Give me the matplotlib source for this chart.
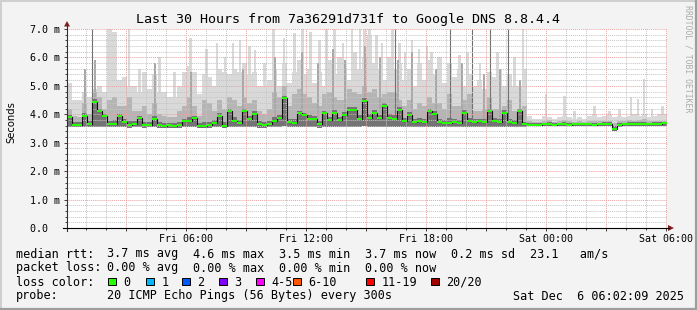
"""
SmokePing style latency chart: last 30 hours to Google DNS 8.8.4.4
"""

import datetime

import matplotlib
matplotlib.use('Agg')
import matplotlib.pyplot as plt
import matplotlib.dates as mdates
import matplotlib.ticker as mtick
from matplotlib.patches import Rectangle, Polygon
import numpy as np

# 15 minute bins, Fri 00:02 -> Sat 06:02
start = datetime.datetime(2025, 12, 5, 0, 2)
step_min = 15

# median rtt (ms)
median = [3.90, 3.62, 3.63, 3.94, 3.66, 4.42, 4.10, 3.95, 3.65, 3.66,
          3.95, 3.73, 3.64, 3.66, 3.88, 3.62, 3.63, 3.83, 3.62, 3.60,
          3.61, 3.59, 3.62, 3.76, 3.76, 3.86, 3.58, 3.58, 3.62, 3.70,
          3.95, 3.60, 4.10, 3.76, 3.70, 4.12, 3.83, 4.00, 3.65, 3.64,
          3.66, 3.75, 3.86, 4.56, 3.72, 3.70, 4.03, 3.96, 3.85, 3.82,
          3.65, 4.03, 3.80, 4.05, 3.80, 3.98, 4.15, 4.15, 3.83, 4.47,
          3.88, 4.06, 3.88, 4.30, 3.88, 3.85, 4.16, 3.76, 3.98, 3.73,
          3.77, 3.72, 4.10, 4.00, 3.72, 3.70, 3.68, 3.72, 3.70, 4.03,
          3.75, 3.74, 3.75, 3.72, 4.10, 3.76, 3.74, 4.03, 3.72, 3.70,
          4.10, 3.66, 3.64, 3.63, 3.64, 3.65, 3.66, 3.64, 3.65, 3.66,
          3.64, 3.65, 3.66, 3.65, 3.66, 3.64, 3.66, 3.67, 3.66, 3.47,
          3.62, 3.65, 3.66, 3.67, 3.66, 3.67, 3.66, 3.67, 3.66, 3.68]

# smoke: slowest ping per bin
smoke_top = [5.1, 4.5, 4.5, 4.8, 4.6, 4.9, 5.0, 4.8, 7.0, 6.9,
             5.2, 5.3, 5.0, 5.0, 4.8, 5.5, 4.9, 5.4, 4.8, 4.8,
             4.6, 4.6, 5.0, 5.5, 5.7, 5.5, 4.7, 5.4, 5.3, 5.0,
             5.6, 5.5, 5.4, 5.6, 5.5, 5.8, 5.4, 5.5, 5.0, 5.0,
             5.2, 5.6, 5.0, 5.8, 5.1, 5.5, 5.9, 5.4, 5.6, 5.1,
             5.5, 5.0, 5.9, 5.4, 6.0, 5.6, 5.2, 6.2, 5.6, 6.0,
             6.8, 5.8, 5.6, 5.2, 6.0, 5.6, 5.8, 5.2, 5.6, 5.0,
             5.8, 5.2, 5.9, 5.4, 6.0, 5.1, 5.8, 5.3, 5.6, 5.0,
             5.4, 5.0, 5.2, 4.9, 5.5, 5.3, 5.6, 5.0, 5.4, 5.0,
             5.0, 5.6, 3.95, 3.85, 3.85, 3.95, 3.9, 3.85, 3.9, 3.95,
             3.9, 3.85, 3.9, 3.85, 3.95, 4.0, 3.9, 3.95, 4.0, 3.9,
             3.95, 3.9, 3.95, 4.0, 3.95, 4.0, 3.9, 3.95, 4.0, 4.0]

# smoke: upper mid band
smoke_upper = [4.2, 3.95, 3.9, 4.4, 4.0, 4.8, 4.6, 4.2, 4.5, 4.6,
               4.3, 4.3, 4.6, 4.1, 4.1, 4.3, 4.0, 4.4, 4.0, 3.95,
               3.9, 3.9, 4.1, 4.3, 4.6, 4.3, 3.95, 4.5, 4.4, 4.1,
               4.5, 4.2, 4.6, 4.5, 4.3, 4.6, 4.4, 4.5, 4.1, 4.0,
               4.2, 4.8, 4.6, 5.0, 4.3, 4.7, 4.9, 4.7, 4.6, 4.4,
               4.3, 4.7, 4.8, 4.6, 4.5, 4.5, 4.9, 4.8, 4.7, 5.0,
               4.8, 4.9, 4.6, 4.7, 4.8, 4.8, 4.5, 4.3, 4.5, 4.2,
               4.4, 4.3, 4.6, 4.4, 4.4, 4.2, 4.7, 4.3, 4.3, 4.5,
               4.7, 4.1, 4.1, 4.2, 4.6, 4.2, 4.2, 4.3, 4.5, 4.1,
               4.0, 4.3, 3.75, 3.73, 3.73, 3.76, 3.8, 3.73, 3.75, 3.8,
               3.75, 3.73, 3.75, 3.73, 3.76, 3.78, 3.75, 3.76, 3.78, 3.68,
               3.76, 3.76, 3.8, 3.76, 3.8, 3.85, 3.76, 3.76, 3.78, 3.78]

# smoke: dense band around the median
smoke_inner = [3.98, 3.72, 3.72, 4.05, 3.76, 4.55, 4.2, 4.02, 3.78, 3.8,
               4.02, 3.85, 3.78, 3.76, 3.95, 3.74, 3.74, 3.95, 3.72, 3.7,
               3.7, 3.68, 3.74, 3.85, 3.9, 3.95, 3.68, 3.74, 3.74, 3.8,
               4.05, 3.74, 4.2, 3.9, 3.8, 4.2, 3.95, 4.1, 3.75, 3.74,
               3.76, 3.9, 3.98, 4.65, 3.84, 3.84, 4.12, 4.06, 3.98, 3.95,
               3.78, 4.12, 3.92, 4.14, 3.92, 4.08, 4.26, 4.24, 3.96, 4.56,
               4.0, 4.16, 3.98, 4.4, 4.0, 3.98, 4.24, 3.88, 4.08, 3.84,
               3.88, 3.84, 4.2, 4.1, 3.84, 3.8, 3.86, 3.84, 3.8, 4.14,
               3.88, 3.82, 3.84, 3.82, 4.2, 3.86, 3.84, 4.14, 3.82, 3.8,
               4.2, 3.74, 3.69, 3.68, 3.69, 3.7, 3.72, 3.69, 3.7, 3.72,
               3.69, 3.7, 3.71, 3.7, 3.71, 3.7, 3.71, 3.72, 3.72, 3.58,
               3.68, 3.7, 3.72, 3.72, 3.72, 3.74, 3.71, 3.72, 3.72, 3.74]

# smoke: fastest ping per bin
smoke_low = [3.55, 3.54, 3.55, 3.56, 3.55, 3.56, 3.55, 3.55, 3.54, 3.55,
             3.55, 3.54, 3.53, 3.55, 3.55, 3.53, 3.54, 3.55, 3.53, 3.52,
             3.53, 3.52, 3.53, 3.55, 3.54, 3.55, 3.52, 3.52, 3.53, 3.54,
             3.55, 3.53, 3.56, 3.55, 3.54, 3.56, 3.55, 3.55, 3.53, 3.53,
             3.54, 3.55, 3.55, 3.58, 3.54, 3.54, 3.56, 3.55, 3.55, 3.55,
             3.53, 3.56, 3.54, 3.56, 3.55, 3.55, 3.57, 3.56, 3.55, 3.58,
             3.55, 3.56, 3.55, 3.57, 3.55, 3.55, 3.56, 3.54, 3.55, 3.54,
             3.55, 3.54, 3.56, 3.55, 3.54, 3.54, 3.54, 3.54, 3.54, 3.56,
             3.55, 3.55, 3.55, 3.54, 3.56, 3.55, 3.55, 3.56, 3.54, 3.54,
             3.56, 3.56, 3.58, 3.58, 3.58, 3.59, 3.58, 3.58, 3.59, 3.58,
             3.58, 3.59, 3.58, 3.59, 3.58, 3.58, 3.59, 3.60, 3.58, 3.42,
             3.56, 3.58, 3.59, 3.59, 3.60, 3.59, 3.59, 3.60, 3.59, 3.60]

# single slow pings (hours after start, ms)
light_spike_h = [3.10, 3.65, 4.65, 5.40, 6.20, 7.00, 7.50, 7.90, 8.30,
                 8.65, 9.15, 9.40, 9.90, 10.35, 10.85, 11.40, 11.80, 12.20,
                 12.65, 13.00, 13.40, 13.80, 14.25, 14.65, 14.90, 15.15,
                 15.50, 15.75, 16.30, 16.65, 16.90, 17.25, 17.60, 18.00,
                 18.25, 18.65, 19.65, 20.05, 20.65, 21.55, 22.40, 22.80,
                 23.95, 24.90, 25.40, 26.40, 27.15, 27.65, 28.20, 28.55,
                 28.85, 29.25, 29.80]
light_spike_ms = [7.0, 5.6, 6.0, 5.5, 6.7, 6.3, 6.5, 6.0, 6.5,
                  6.6, 6.4, 6.25, 5.8, 7.0, 6.7, 6.85, 7.0, 6.9,
                  6.6, 7.0, 7.0, 6.5, 7.0, 7.0, 7.0, 7.0,
                  6.8, 6.5, 7.0, 6.5, 6.2, 6.6, 6.3, 6.4,
                  6.2, 6.0, 6.1, 6.2, 5.8, 6.2, 6.0, 7.0,
                  4.7, 4.65, 4.1, 4.3, 4.1, 4.2, 4.6, 4.55,
                  5.25, 4.2, 4.3]
mid_spike_h = [0.90, 1.40, 4.40, 6.20, 8.80, 10.40, 11.75, 12.55, 13.30,
               13.90, 14.90, 15.65, 16.55, 17.25, 18.45, 19.75, 20.85,
               21.65, 22.65]
mid_spike_ms = [5.6, 5.9, 5.8, 5.5, 5.6, 6.0, 6.2, 5.8, 6.3,
                5.9, 6.4, 6.0, 5.9, 6.2, 5.6, 5.8, 5.4,
                5.6, 5.2]
dark_spike_h = [1.25, 16.40, 19.15, 20.25, 21.15, 22.05]
dark_spike_ms = [7.0, 7.0, 7.0, 7.0, 7.0, 7.0]

loss_labels = ['0', '1', '2', '3', '4-5', '6-10', '11-19', '20/20']
loss_colors = ['#26ff00', '#00b8ff', '#0059ff', '#7e00ff',
               '#ff00ff', '#ff5500', '#ff0000', '#a10000']
loss_swatch_x = [108, 146, 182, 219, 256, 293, 366, 431]

rtt_stats = ['3.7 ms avg', '4.6 ms max', '3.5 ms min', '3.7 ms now',
             '0.2 ms sd', '23.1   am/s']
loss_stats = ['0.00 % avg', '0.00 % max', '0.00 % min', '0.00 % now']
stat_x = [107, 193, 279, 365, 451, 530]

title = 'Last 30 Hours from 7a36291d731f to Google DNS 8.8.4.4'
probe_text = '20 ICMP Echo Pings (56 Bytes) every 300s'
stamp_text = 'Sat Dec  6 06:02:09 2025'

W, H = 697, 310
BG = '#f3f3f3'
plt.rcParams['font.family'] = 'DejaVu Sans Mono'


def tick_label(v, pos):
    dt = mdates.num2date(v)
    if dt.hour % 6 == 0:
        return dt.strftime('%a %H:%M')
    return ''


def ylabel_fmt(v, pos):
    if abs(v) < 1e-9:
        return '0.0  '
    return '{:.1f} m'.format(v)


fig = plt.figure(figsize=(W / 100, H / 100), dpi=100, facecolor=BG)
ax = fig.add_axes([67 / W, (H - 228) / H, 600 / W, 199 / H])
ax.set_facecolor('white')

n = len(median)
edges = [start + datetime.timedelta(minutes=step_min * i) for i in range(n + 1)]
x = mdates.date2num(edges)


def ext(a):
    return np.append(a, a[-1])


def at_hours(hours):
    return mdates.date2num([start + datetime.timedelta(hours=h) for h in hours])


ax.fill_between(x, ext(smoke_low), ext(smoke_top), step='post',
                color='#d9d9d9', linewidth=0, zorder=1)
ax.bar(at_hours(light_spike_h), np.array(light_spike_ms) - 3.6, bottom=3.6,
       width=9 / 1440, color='#d9d9d9', linewidth=0, zorder=1)
ax.fill_between(x, ext(smoke_low), ext(smoke_upper), step='post',
                color='#b5b5b5', linewidth=0, zorder=1.2)
ax.bar(at_hours(mid_spike_h), np.array(mid_spike_ms) - 3.6, bottom=3.6,
       width=4 / 1440, color='#a8a8a8', linewidth=0, zorder=1.2)
ax.vlines(at_hours(dark_spike_h), 3.6, dark_spike_ms, color='#707070',
          linewidth=0.8, zorder=1.3)
ax.fill_between(x, ext(smoke_low), ext(smoke_inner), step='post',
                color='#747474', linewidth=0, zorder=1.4)
ax.step(x, ext(median), where='post', color='#101010', linewidth=0.8, zorder=3)
ax.bar(x[:-1], 0.07, bottom=np.array(median) - 0.035, width=x[1] - x[0],
       align='edge', color=loss_colors[0], linewidth=0, zorder=4)

ax.set_xlim(x[0], x[-1])
ax.set_ylim(0, 7.0)

ax.xaxis.set_major_locator(mdates.HourLocator(interval=3))
ax.xaxis.set_minor_locator(mdates.HourLocator())
ax.xaxis.set_major_formatter(mtick.FuncFormatter(tick_label))
ax.yaxis.set_major_locator(mtick.MultipleLocator(1.0))
ax.yaxis.set_minor_locator(mtick.MultipleLocator(0.2))
ax.yaxis.set_major_formatter(mtick.FuncFormatter(ylabel_fmt))

ax.grid(which='minor', color='#c4c4c4', linestyle=(0, (1, 1)), linewidth=0.7)
ax.grid(which='major', color='#eaa0a0', linestyle=(0, (1, 1)), linewidth=0.7)
for g in ax.get_xgridlines() + ax.get_ygridlines():
    g.set_zorder(0.5)

ax.tick_params(which='both', direction='out', color='#404040', width=0.7)
ax.tick_params(which='major', length=2.2, labelsize=7.2, pad=2.2)
ax.tick_params(which='minor', length=1.2)
ax.tick_params(axis='y', pad=3.2)
for s in ax.spines.values():
    s.set_visible(False)

# overlay in pixel coordinates for frame, arrows and legend
ov = fig.add_axes([0, 0, 1, 1], zorder=5)
ov.set_xlim(0, W)
ov.set_ylim(H, 0)
ov.axis('off')
ov.patch.set_alpha(0)

ov.plot([0.5, W - 0.5], [0.5, 0.5], color='#cfcfcf', lw=1.4)
ov.plot([0.5, 0.5], [0.5, H - 0.5], color='#cfcfcf', lw=1.4)
ov.plot([0, W], [H - 1, H - 1], color='#9e9e9e', lw=1.6)
ov.plot([W - 1, W - 1], [0, H], color='#9e9e9e', lw=1.6)

ov.plot([67, 67], [231, 25], color='#303030', lw=0.8)
ov.plot([63, 669], [228, 228], color='#000000', lw=0.8)
ov.add_patch(Polygon([[64, 26.5], [70, 26.5], [67, 21]], closed=True,
                     color='#802020', lw=0))
ov.add_patch(Polygon([[668, 225], [668, 231], [674, 228]], closed=True,
                     color='#802020', lw=0))

ov.text(348, 19, title, fontsize=9.6, ha='center', va='center', color='black')
ov.text(11, 122, 'Seconds', fontsize=7.2, family='DejaVu Sans',
        rotation=90, ha='center', va='center')
ov.text(688, 5, 'RRDTOOL / TOBI OETIKER', fontsize=5.9, rotation=270,
        ha='center', va='top', color='#ababab')

fs = 8.5
ov.text(16, 254, 'median rtt:', fontsize=fs, va='center')
for sx, s in zip(stat_x, rtt_stats):
    ov.text(sx, 254, s, fontsize=fs, va='center')
ov.text(16, 268, 'packet loss:', fontsize=fs, va='center')
for sx, s in zip(stat_x, loss_stats):
    ov.text(sx, 268, s, fontsize=fs, va='center')
ov.text(16, 282, 'loss color:', fontsize=fs, va='center')
for sx, lab, col in zip(loss_swatch_x, loss_labels, loss_colors):
    ov.add_patch(Rectangle((sx, 277.5), 7.5, 7.5, facecolor=col,
                           edgecolor='black', lw=0.7))
    ov.text(sx + 15.5, 282, lab, fontsize=fs, va='center')
ov.text(16, 296, 'probe:', fontsize=fs, va='center')
ov.text(107, 296, probe_text, fontsize=fs, va='center')
ov.text(513, 296, stamp_text, fontsize=fs, va='center')

fig.savefig('out.png', dpi=100, facecolor=BG)
